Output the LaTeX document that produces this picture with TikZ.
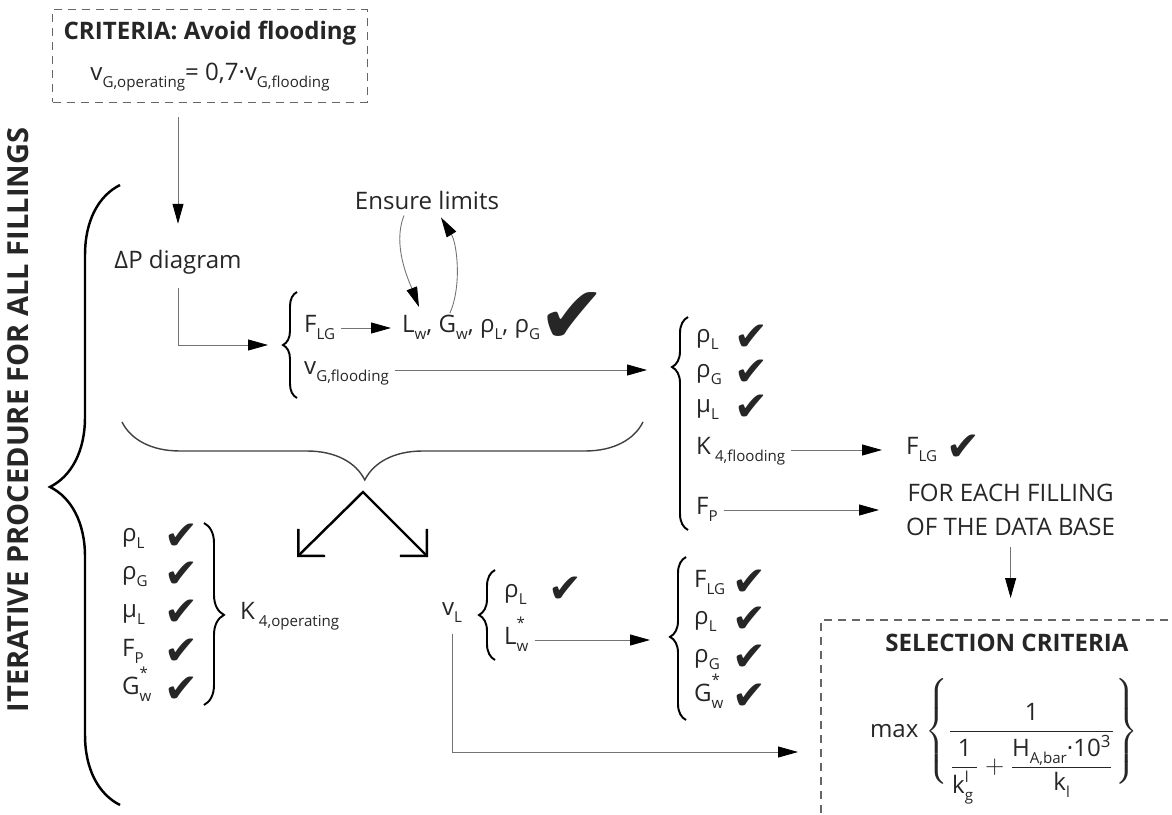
\documentclass[tikz,border=0pt]{standalone}
\usepackage{fontspec}
\usepackage{amsmath}
\setmainfont{Open Sans}
\newfontfamily\tickfont{DejaVu Sans}
\usetikzlibrary{arrows.meta, positioning, calc, decorations.pathreplacing}

\newcommand{\sub}[1]{\raisebox{-0.55ex}{\fontsize{8.6}{9}\selectfont #1}}
\newcommand{\supsub}[2]{\rlap{\raisebox{1.2ex}{\fontsize{8.6}{9}\selectfont #1}}\sub{#2}}
\newcommand{\ok}{✔}

\begin{document}
\begin{tikzpicture}[
        x=0.02cm, y=-0.02cm,
        every node/.style={font=\fontsize{13.7}{16.4}\selectfont, text=black!85},
        lbl/.style={anchor=west, text height=0.75em, text depth=0.25em},
        tick/.style={font=\tickfont\fontsize{23}{23}\selectfont, inner sep=0pt},
        arr/.style={-{Triangle[length=0.4cm, width=0.22cm, color=black, fill=black]}, draw=black!55, line width=0.5pt},
        bigarr/.style={{Straight Barb[length=0.38cm, width=0.76cm]}-{Straight Barb[length=0.38cm, width=0.76cm]}, line width=1.4pt},
        curly/.style 2 args={decorate, decoration={brace, amplitude=#1, aspect=#2}, line width=1.1pt},
        dashline/.style={draw=black!60, dash pattern=on 0.16cm off 0.12cm, line width=0.6pt}
    ]
    \useasboundingbox (0,0) rectangle (1172,814);

    % Criteria box on top
    \node[dashline, minimum width=6.3cm, minimum height=1.86cm, align=center] (crit) at (210,56)
        {\textbf{CRITERIA: Avoid flooding}\\[7pt] v\sub{G,operating}= 0,7·v\sub{G,flooding}};

    % Pressure drop diagram
    \node (dp) at (178,262) {ΔP diagram};
    \draw[arr, shorten <=0.28cm, shorten >=0.4cm] (crit.south -| dp) -- (dp.north);

    % First brace
    \draw[curly={0.28cm}{0.5}] (297,398) -- (297,292);
    \coordinate (b1) at (283,345);
    \draw[arr, shorten <=0.16cm, shorten >=0.3cm] (dp.south) |- (b1);
    \node[lbl] (flg) at (298,328) {F\sub{LG}};
    \node[lbl] (vgf) at (298,370) {v\sub{G,flooding}};
    \node[lbl] (lgr) at (396,328) {L\sub{w}, G\sub{w}, ρ\sub{L}, ρ\sub{G}};
    \node[tick, font=\tickfont\fontsize{46}{46}\selectfont] (tk0) at (572,318) {\ok};
    \draw[arr, shorten >=0.1cm] (flg) -- (lgr);

    % Ensure limits loop
    \node (ens) at (427,200) {Ensure limits};
    \draw[arr] ($(ens.south)+(-23,0)$) .. controls +(-12,30) and +(-10,-26) .. ($(lgr.north west)+(23,-6)$);
    \draw[arr] ($(lgr.north west)+(54,0)$) .. controls +(12,-28) and +(16,26) .. ($(ens.south)+(14,2)$);

    % Second brace
    \draw[curly={0.32cm}{0.765}] (688,530) -- (688,317);
    \coordinate (b2) at (672,367);
    \draw[arr, shorten >=0.5cm] (vgf.east) -- (vgf.east -| b2);
    \foreach \txt/\y [count=\i] in {ρ\sub{L}/338, ρ\sub{G}/373, μ\sub{L}/408} {
        \node[lbl] (p\i) at (690,\y) {\txt};
        \node[tick] (pt\i) at (751,\y) {\ok};
    }
    \node[lbl] (k4f) at (690,450) {K\,\sub{4,flooding}};
    \node[lbl] (fpa) at (690,510) {F\sub{P}};
    \node[lbl] (flg2) at (900,450) {F\sub{LG}};
    \node[tick] (tk2) at (963,448) {\ok};
    \node[anchor=west, align=center] (fe) at (900,510) {FOR EACH FILLING\\[3pt]OF THE DATA BASE};
    \draw[arr, shorten >=0.36cm] (k4f) -- (flg2);
    \draw[arr, shorten >=0.42cm] (fpa) -- (fpa -| fe.west);

    % Underbrace and split
    \draw[curly={1.16cm}{0.534}, line width=0.8pt, black!75] (643,422) -- (122,422);
    \coordinate (apex) at (363,492);
    \coordinate (toK) at (297,557);
    \coordinate (toV) at (428,557);
    \draw[bigarr] (toK) -- (apex) -- (toV);

    % Operating K4
    \foreach \txt/\y [count=\i] in {ρ\sub{L}/537, ρ\sub{G}/575, μ\sub{L}/613, F\sub{P}/652, G\supsub{*}{w}/690} {
        \node[lbl] (q\i) at (116,\y) {\txt};
        \node[tick] (qt\i) at (181,\y) {\ok};
    }
    \draw[curly={0.4cm}{0.505}] (204,523) -- (204,705);
    \node[lbl] (k4o) at (234,615) {K\,\sub{4,operating}};

    % Liquid velocity
    \node (vl) at (452,613) {v\sub{L}};
    \draw[curly={0.32cm}{0.5}] (495,660) -- (495,570);
    \node[lbl] (vr) at (498,593) {ρ\sub{L}};
    \node[tick] (vt) at (565,590) {\ok};
    \node[lbl] (lw) at (498,640) {L\supsub{*}{w}};
    \draw[curly={0.32cm}{0.51}] (686,720) -- (686,557);
    \coordinate (b3) at (670,637);
    \draw[arr, shorten >=0.4cm] (lw) -- (lw -| b3);
    \foreach \txt/\y [count=\i] in {F\sub{LG}/583, ρ\sub{L}/620, ρ\sub{G}/658, G\supsub{*}{w}/697} {
        \node[lbl] (s\i) at (688,\y) {\txt};
        \node[tick] (st\i) at (749,\y) {\ok};
    }

    % Selection criteria
    \coordinate (selTL) at (821,620);
    \coordinate (selL) at (821,752);
    \draw[dashline] (1168,620) -- (selTL) -- (821,814);
    \node[font=\bfseries\fontsize{13.7}{16.4}\selectfont, inner sep=1pt] (selT) at (1007,643) {SELECTION CRITERIA};
    \node[inner sep=0pt] (selF) at (1004,736) {max\hspace{4pt}$\delimiterfactor=820\delimitershortfall=14pt
        \left\{\dfrac{\text{1}}{\dfrac{\text{1}}{\text{k\smash[b]{\rlap{\raisebox{0.9ex}{\fontsize{8.6}{9}\selectfont l}}\sub{g}}}\,}+\dfrac{\text{H\smash[b]{\sub{A,bar}}·10\textsuperscript{3}}}{\text{k\smash[b]{\sub{l}}}}}\right\}$};
    \draw[arr, shorten <=0.1cm, shorten >=0.44cm] (fe.south) -- (fe.south |- selTL);
    \draw[arr, shorten <=0.1cm, shorten >=0.46cm] (vl.south) |- (selL);

    % Big brace on the left
    \draw[curly={1.4cm}{0.513}, line width=1.4pt] (120,805) -- (120,185);
    \node[rotate=90, font=\bfseries\fontsize{16.5}{19}\selectfont] (iter) at (18,420) {ITERATIVE PROCEDURE FOR ALL FILLINGS};

\end{tikzpicture}
\end{document}
